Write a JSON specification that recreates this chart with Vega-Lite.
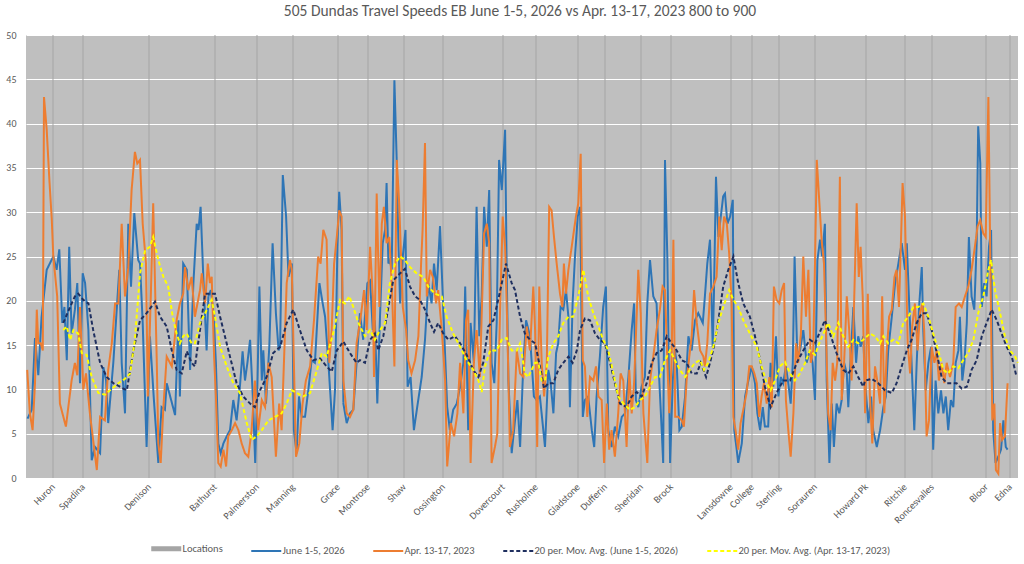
{
  "$schema": "https://vega.github.io/schema/vega-lite/v6.json",
  "width": 992,
  "height": 443,
  "autosize": {"type": "none"},
  "padding": {"left": 26, "top": 35, "right": 6, "bottom": 86},
  "background": "#ffffff",
  "title": {
    "text": "505 Dundas Travel Speeds EB June 1-5, 2026 vs Apr. 13-17, 2023 800 to 900",
    "font": "Carlito, Lato",
    "fontSize": 15.5,
    "fontWeight": "normal",
    "color": "#595959",
    "anchor": "middle",
    "frame": "group",
    "offset": 11,
    "dx": -2
  },
  "config": {
    "font": "Carlito, Lato",
    "view": {"fill": "#bfbfbf", "stroke": null},
    "axis": {"labelColor": "#595959", "labelFontSize": 10, "ticks": false, "domain": false, "title": null}
  },
  "datasets": {
    "loc": [
      {"k": 9, "name": "Huron"}, {"k": 19, "name": "Spadina"}, {"k": 41, "name": "Denison"}, {"k": 63, "name": "Bathurst"},
      {"k": 77, "name": "Palmerston"}, {"k": 89, "name": "Manning"}, {"k": 104, "name": "Grace"}, {"k": 114, "name": "Montrose"},
      {"k": 126, "name": "Shaw"}, {"k": 139, "name": "Ossington"}, {"k": 159, "name": "Dovercourt"}, {"k": 170, "name": "Rusholme"},
      {"k": 184, "name": "Gladstone"}, {"k": 193, "name": "Dufferin"}, {"k": 205, "name": "Sheridan"}, {"k": 215, "name": "Brock"},
      {"k": 235, "name": "Lansdowne"}, {"k": 242, "name": "College"}, {"k": 251, "name": "Sterling"}, {"k": 263, "name": "Sorauren"},
      {"k": 280, "name": "Howard Pk"}, {"k": 293, "name": "Ritchie"}, {"k": 302, "name": "Roncesvalles"}, {"k": 320, "name": "Bloor"},
      {"k": 328, "name": "Edna"}
    ],
    "jun": [
      {"k":0.5,"v":6.7},{"k":1.9,"v":7.7},{"k":3,"v":15.8},{"k":4.1,"v":11.6},{"k":5.2,"v":18.2},{"k":6.9,"v":23.5},{"k":9.1,"v":25},{"k":10.2,"v":23.5},{"k":11.1,"v":25.8},{"k":12.1,"v":17.5},{"k":12.8,"v":19.3},{"k":13.6,"v":13.3},{"k":14.4,"v":26.1},{"k":15.2,"v":16.3},{"k":16.3,"v":19},{"k":17.1,"v":22},{"k":18,"v":10.7},{"k":18.9,"v":23.1},{"k":19.7,"v":22},{"k":20.8,"v":16.7},{"k":21.9,"v":2},{"k":23,"v":3.5},{"k":24.7,"v":2.8},{"k":25.8,"v":12.5},{"k":26.7,"v":11},{"k":27.4,"v":6.2},{"k":29.1,"v":13},{"k":31.1,"v":23.5},{"k":31.9,"v":13},{"k":33,"v":7.3},{"k":34.1,"v":28.7},{"k":35,"v":21.6},{"k":36.1,"v":29.9},{"k":37.4,"v":24.6},{"k":38,"v":24.2},{"k":38.9,"v":17.5},{"k":40.2,"v":3.5},{"k":41.3,"v":16},{"k":42.6,"v":9},{"k":44.1,"v":1.7},{"k":45.2,"v":8},{"k":46.3,"v":7.7},{"k":46.9,"v":10.7},{"k":49.7,"v":7.1},{"k":50.8,"v":17.8},{"k":51.3,"v":9.2},{"k":52.4,"v":24.2},{"k":53.6,"v":23.5},{"k":54.7,"v":12.2},
      {"k":55.8,"v":22},{"k":56.9,"v":28.7},{"k":57.5,"v":28},{"k":58.2,"v":30.6},{"k":59.1,"v":22.7},{"k":60.2,"v":14.4},{"k":60.8,"v":20.5},{"k":61.6,"v":21.2},{"k":62.5,"v":18.6},{"k":63.3,"v":13},{"k":64.1,"v":3.9},{"k":64.9,"v":2.8},{"k":65.8,"v":3.9},{"k":66.9,"v":4.7},{"k":68,"v":5.4},{"k":69.1,"v":8.8},{"k":70.2,"v":6.5},{"k":71.3,"v":10.3},{"k":72.2,"v":14.3},{"k":73,"v":11},{"k":73.8,"v":13},{"k":74.7,"v":15.6},{"k":75.6,"v":9.2},{"k":76.4,"v":1.7},{"k":77.2,"v":11.4},{"k":77.8,"v":21.6},{"k":78.6,"v":11},{"k":79.1,"v":14.4},{"k":80,"v":8.4},{"k":81.1,"v":14.8},{"k":82.2,"v":26.5},{"k":83.3,"v":18.6},{"k":84.2,"v":14.4},{"k":84.7,"v":14.8},{"k":85.6,"v":34.2},{"k":86.7,"v":29.5},{"k":87.5,"v":22.7},{"k":88.6,"v":24.2},{"k":89.3,"v":5.4},{"k":90.2,"v":2.8},{"k":91,"v":9.2},{"k":91.9,"v":6.9},{"k":93,"v":6.9},{"k":94.1,"v":9.9},{"k":95.2,"v":13.3},{"k":96.3,"v":13},{"k":97.8,"v":22},{"k":98.9,"v":19.7},{"k":99.7,"v":18.2},{"k":100.8,"v":13},{"k":102.2,"v":5.4},{"k":103,"v":9.9},{"k":103.8,"v":26.1},{"k":104.4,"v":32.3},{"k":105.2,"v":28},{"k":105.8,"v":8.4},{"k":106.9,"v":6.2},{"k":108,"v":7.3},{"k":109.1,"v":7.7},{"k":110.2,"v":13},{"k":111.3,"v":18.6},
      {"k":112.4,"v":15.6},{"k":113.8,"v":22},{"k":114.7,"v":22.3},{"k":115.6,"v":16.7},{"k":116.3,"v":17.8},{"k":117.1,"v":8.4},{"k":118,"v":18.2},{"k":118.9,"v":26.5},{"k":119.7,"v":28},{"k":120.2,"v":33.3},{"k":120.8,"v":24.2},{"k":121.3,"v":24.6},{"k":121.9,"v":23.5},{"k":122.8,"v":44.9},{"k":123.6,"v":35.5},{"k":124.1,"v":27.2},{"k":124.7,"v":19.7},{"k":125.6,"v":25},{"k":126.5,"v":28},{"k":127.2,"v":10.3},{"k":128.2,"v":11.4},{"k":129.3,"v":5.4},{"k":130.4,"v":8},{"k":131.9,"v":11.4},{"k":133,"v":15.6},{"k":134.1,"v":22},{"k":135.2,"v":19.7},{"k":136,"v":24.2},{"k":136.9,"v":21.2},{"k":138,"v":28.4},{"k":139.1,"v":19},{"k":140.4,"v":8},{"k":141.3,"v":5.4},{"k":142.4,"v":7.7},{"k":143.6,"v":8.4},{"k":144.7,"v":10.3},{"k":145.8,"v":13},{"k":146.4,"v":21.6},{"k":147.4,"v":5.4},{"k":148.2,"v":17.5},{"k":149.3,"v":13},{"k":150.2,"v":30.6},{"k":151.1,"v":16},{"k":151.9,"v":20.5},{"k":152.7,"v":30.6},{"k":153.6,"v":26.1},{"k":154.4,"v":32.5},{"k":155.2,"v":13},{"k":156.1,"v":10.7},{"k":156.9,"v":17.5},{"k":157.7,"v":35.9},{"k":158.6,"v":32.5},{"k":159.7,"v":39.3},{"k":160.2,"v":24.2},{"k":160.8,"v":11},{"k":161.9,"v":2.8},{"k":163,"v":6.5},{"k":163.8,"v":8.8},{"k":164.7,"v":3.5},{"k":165.8,"v":13},{"k":166.7,"v":17.8},{"k":168,"v":16},{"k":169.3,"v":9.2},
      {"k":170.2,"v":8.8},{"k":171.3,"v":9.2},{"k":172.2,"v":6.2},{"k":173,"v":3.5},{"k":174.1,"v":12.2},{"k":174.9,"v":10.7},{"k":175.8,"v":7.3},{"k":176.7,"v":14.1},{"k":177.4,"v":15.2},{"k":178.2,"v":19.3},{"k":179.1,"v":19},{"k":180,"v":21.2},{"k":180.8,"v":18.2},{"k":181.3,"v":8},{"k":182.2,"v":19.7},{"k":183,"v":25},{"k":183.9,"v":29.5},{"k":184.7,"v":30.6},{"k":185.6,"v":6.9},{"k":186.3,"v":8.8},{"k":187.4,"v":9.2},{"k":188.6,"v":5.4},{"k":189.4,"v":3.5},{"k":190.2,"v":9.2},{"k":191.3,"v":13.7},{"k":192.4,"v":19.3},{"k":193.3,"v":21.6},{"k":194.1,"v":5.4},{"k":195.2,"v":3.5},{"k":196.3,"v":5.8},{"k":197.4,"v":4.7},{"k":198.6,"v":6.9},{"k":199.7,"v":7.3},{"k":200.8,"v":11.4},{"k":201.9,"v":16.7},{"k":202.7,"v":19.7},{"k":203.3,"v":8.8},{"k":204.1,"v":8},{"k":205.2,"v":10.3},{"k":206.3,"v":11.4},{"k":207.1,"v":19.7},{"k":208,"v":24.6},{"k":209.1,"v":20.5},{"k":210.2,"v":19.7},{"k":211.1,"v":11},{"k":211.9,"v":5.4},{"k":212.4,"v":1.7},{"k":213,"v":35.9},{"k":213.8,"v":24.6},{"k":214.7,"v":1.7},{"k":215.6,"v":11},{"k":216.3,"v":14.4},{"k":216.9,"v":13},{"k":217.8,"v":5.4},{"k":218.6,"v":5.8},{"k":219.7,"v":9.2},{"k":220.8,"v":16},{"k":221.9,"v":14.4},{"k":223,"v":17.8},{"k":224.1,"v":18.6},
      {"k":225.6,"v":17.5},{"k":226.3,"v":20.5},{"k":227.1,"v":24.2},{"k":228,"v":26.9},{"k":228.9,"v":14.8},{"k":229.3,"v":20.5},{"k":230,"v":34},{"k":230.8,"v":27.2},{"k":231.6,"v":29.5},{"k":232.4,"v":31.8},{"k":233,"v":32.1},{"k":233.8,"v":28.7},{"k":234.7,"v":29.5},{"k":235.6,"v":31.4},{"k":236.1,"v":5.4},{"k":236.9,"v":3.2},{"k":237.4,"v":1.7},{"k":238.6,"v":3.9},{"k":239.7,"v":9.2},{"k":240.8,"v":11},{"k":241.9,"v":12.6},{"k":243,"v":10.7},{"k":243.8,"v":7.3},{"k":244.7,"v":5.4},{"k":245.6,"v":8},{"k":246.3,"v":5.8},{"k":247.4,"v":5.8},{"k":248.2,"v":13},{"k":249.1,"v":10.3},{"k":250,"v":16},{"k":250.8,"v":9.2},{"k":251.6,"v":11.4},{"k":252.4,"v":10.7},{"k":253.3,"v":12.6},{"k":254.1,"v":10.7},{"k":254.9,"v":8.4},{"k":255.6,"v":13},{"k":256.2,"v":25},{"k":257.1,"v":13.7},{"k":258,"v":14.4},{"k":259.1,"v":16.7},{"k":260.2,"v":13},{"k":261.3,"v":14.4},{"k":262.2,"v":13},{"k":263,"v":8.8},{"k":263.8,"v":24.6},{"k":264.7,"v":26.9},{"k":265.4,"v":25},{"k":266.3,"v":28.7},{"k":266.9,"v":11},{"k":267.8,"v":1.7},{"k":268.6,"v":8.4},{"k":269.3,"v":3.5},{"k":270.2,"v":8.4},{"k":271.1,"v":7.3},{"k":271.9,"v":8.8},{"k":272.7,"v":13},{"k":273.6,"v":11.8},{"k":274.1,"v":8},{"k":274.9,"v":13.7},{"k":275.8,"v":19.3},{"k":276.7,"v":13},{"k":277.4,"v":16},{"k":278.2,"v":14.8},{"k":279.1,"v":16},
      {"k":279.7,"v":10.7},{"k":280.8,"v":6.2},{"k":281.7,"v":9.2},{"k":282.4,"v":5.4},{"k":283.6,"v":3.5},{"k":284.7,"v":5.4},{"k":285.8,"v":8},{"k":286.6,"v":9.2},{"k":287.4,"v":14.4},{"k":288.6,"v":18.2},{"k":289.7,"v":22},{"k":290.8,"v":24.2},{"k":291.9,"v":26.5},{"k":293,"v":23.5},{"k":293.6,"v":26.5},{"k":294.3,"v":20.5},{"k":295.2,"v":13},{"k":296.1,"v":5.4},{"k":296.9,"v":13},{"k":297.7,"v":19.3},{"k":298.6,"v":23.8},{"k":299.1,"v":16.7},{"k":299.9,"v":9.9},{"k":300.8,"v":13},{"k":301.7,"v":14.8},{"k":302.4,"v":3.2},{"k":303.2,"v":11},{"k":304.1,"v":7.3},{"k":305,"v":9.9},{"k":305.8,"v":7.3},{"k":306.6,"v":9.2},{"k":307.4,"v":5.4},{"k":308.3,"v":8.8},{"k":309.1,"v":8},{"k":309.9,"v":13},{"k":310.8,"v":14.4},{"k":311.3,"v":18.2},{"k":312.1,"v":11},{"k":312.8,"v":13},{"k":313.6,"v":17.5},{"k":314.3,"v":27.2},{"k":315.2,"v":20.5},{"k":316.1,"v":19},{"k":316.9,"v":26.5},{"k":317.4,"v":39.7},{"k":318.1,"v":35.5},{"k":318.6,"v":19.3},{"k":319.4,"v":22},{"k":320.2,"v":20.5},{"k":321,"v":26.1},{"k":321.7,"v":28},{"k":322.4,"v":5.4},{"k":323.2,"v":1.7},{"k":324.1,"v":2.4},{"k":325,"v":3.2},{"k":325.8,"v":6.5},{"k":326.6,"v":3.5},{"k":327.2,"v":3.2}
    ],
    "apr": [
      {"k":0.4,"v":12.2},{"k":1.3,"v":7.3},{"k":2.2,"v":5.4},{"k":3,"v":10.7},{"k":3.6,"v":19},{"k":4.1,"v":15.2},{"k":4.9,"v":15.2},{"k":5.6,"v":14.4},{"k":6,"v":43},{"k":6.9,"v":39.3},{"k":7.8,"v":33.6},{"k":8.6,"v":29.1},{"k":9.1,"v":25},{"k":10.4,"v":20.5},{"k":11.3,"v":8.4},{"k":13.3,"v":5.8},{"k":15.2,"v":11},{"k":16.3,"v":13},{"k":17.1,"v":11.6},{"k":18,"v":19.3},{"k":19.1,"v":10},{"k":20,"v":11.8},{"k":21.3,"v":7.3},{"k":23.6,"v":0.9},{"k":24.7,"v":6.9},{"k":26.3,"v":6.5},{"k":27.4,"v":12.2},{"k":28.6,"v":15.2},{"k":29.7,"v":19.7},{"k":30.8,"v":19.7},{"k":31.9,"v":28.7},{"k":33,"v":20.5},{"k":34.1,"v":23.8},{"k":35.2,"v":32.5},{"k":36.3,"v":36.8},{"k":37.1,"v":35.5},{"k":38,"v":35.9},{"k":38.9,"v":28.7},{"k":40,"v":24.2},{"k":40.6,"v":9.2},{"k":41.6,"v":20.5},{"k":42.4,"v":31},{"k":43.6,"v":13},{"k":44.1,"v":3.9},{"k":44.9,"v":1.7},{"k":45.8,"v":8},{"k":46.9,"v":13.7},{"k":48.6,"v":12.6},{"k":50.2,"v":17.8},{"k":51.3,"v":19.7},{"k":52.4,"v":20.8},{"k":53,"v":23.8},{"k":54.1,"v":21.2},{"k":55.2,"v":22.7},
      {"k":56.3,"v":18.2},{"k":58,"v":21.2},{"k":58.6,"v":23.1},{"k":59.7,"v":19.7},{"k":60.6,"v":24.2},{"k":61.3,"v":22},{"k":61.9,"v":22.7},{"k":62.7,"v":13.7},{"k":63.3,"v":9.2},{"k":64.1,"v":1.7},{"k":64.9,"v":1.3},{"k":65.8,"v":3.2},{"k":66.7,"v":1.3},{"k":67.4,"v":4.7},{"k":68.6,"v":5.4},{"k":69.7,"v":6.2},{"k":70.8,"v":5.4},{"k":71.9,"v":3.9},{"k":73,"v":2.8},{"k":74.1,"v":2.4},{"k":75.2,"v":5.4},{"k":76.3,"v":11},{"k":77.4,"v":5.4},{"k":78.6,"v":8.8},{"k":79.7,"v":8},{"k":80.8,"v":13},{"k":81.9,"v":11.4},{"k":83.3,"v":2.4},{"k":84.4,"v":8.4},{"k":85.2,"v":5.4},{"k":86.9,"v":22},{"k":88,"v":24.6},{"k":88.6,"v":23.5},{"k":89.3,"v":13},{"k":90,"v":2.4},{"k":91.1,"v":3.9},{"k":92.2,"v":8.4},{"k":93.3,"v":11},{"k":94.7,"v":12.6},{"k":96,"v":17.8},{"k":97.4,"v":25},{"k":98.2,"v":24.2},{"k":99.1,"v":28},{"k":100.2,"v":26.9},{"k":101.1,"v":13},{"k":101.9,"v":16.7},{"k":102.7,"v":24.2},{"k":103.6,"v":27.2},{"k":104.4,"v":30.2},{"k":105.2,"v":29.5},{"k":105.8,"v":11},{"k":106.9,"v":7.3},{"k":108,"v":6.9},{"k":109.1,"v":7.7},{"k":110.2,"v":15.2},{"k":111.3,"v":17.5},
      {"k":112.7,"v":21.2},{"k":113.6,"v":16.7},{"k":114.7,"v":26.1},{"k":115.6,"v":20.5},{"k":116,"v":11.4},{"k":116.9,"v":32.1},{"k":117.8,"v":19.3},{"k":118.6,"v":28.7},{"k":119.3,"v":30.6},{"k":120.2,"v":26.5},{"k":121.1,"v":27.2},{"k":122,"v":21.2},{"k":122.8,"v":12.6},{"k":123.6,"v":35.9},{"k":124.4,"v":31},{"k":125.6,"v":19.3},{"k":126.7,"v":16.7},{"k":127.4,"v":13.3},{"k":128.5,"v":11.8},{"k":129.7,"v":13.3},{"k":130.8,"v":16},{"k":131.7,"v":24.2},{"k":132.2,"v":28},{"k":133,"v":37.8},{"k":133.6,"v":20.5},{"k":134.7,"v":23.5},{"k":135.6,"v":22.7},{"k":136.7,"v":19.7},{"k":137.4,"v":21.2},{"k":138.6,"v":16.7},{"k":139.7,"v":11},{"k":140.4,"v":1.3},{"k":141.6,"v":6.2},{"k":142.7,"v":4.7},{"k":143.8,"v":7.3},{"k":144.7,"v":13},{"k":145.8,"v":7.3},{"k":146.7,"v":17.8},{"k":147.4,"v":19},{"k":148.2,"v":1.7},{"k":149.3,"v":13},{"k":150.2,"v":16.7},{"k":151.3,"v":11.4},{"k":152.7,"v":27.6},{"k":153.6,"v":28.7},{"k":154.4,"v":26.5},{"k":155.2,"v":1.7},{"k":156.3,"v":3.5},{"k":157.1,"v":5},{"k":158,"v":18.6},{"k":158.9,"v":29.5},{"k":159.7,"v":26.1},{"k":160.4,"v":17.5},{"k":161.3,"v":3.5},{"k":162.4,"v":5.4},{"k":163.6,"v":14.4},{"k":164.7,"v":11.8},{"k":165.8,"v":11.4},{"k":166.9,"v":17.1},{"k":168,"v":14.4},{"k":169.1,"v":21.6},
      {"k":169.7,"v":16.7},{"k":170.4,"v":3.5},{"k":171.1,"v":21.6},{"k":171.9,"v":13},{"k":172.7,"v":9.2},{"k":173.6,"v":13},{"k":174.4,"v":30.6},{"k":175.2,"v":30.2},{"k":176,"v":27.2},{"k":176.9,"v":24.2},{"k":178,"v":20.8},{"k":178.8,"v":19.3},{"k":179.3,"v":24.2},{"k":180,"v":20.8},{"k":180.8,"v":23.5},{"k":181.9,"v":26.1},{"k":183.3,"v":29.5},{"k":184.1,"v":31},{"k":184.9,"v":36.6},{"k":185.6,"v":13.3},{"k":186.3,"v":12.6},{"k":187.1,"v":6.9},{"k":188,"v":11.4},{"k":189.1,"v":11},{"k":190,"v":12.6},{"k":190.8,"v":9.2},{"k":191.9,"v":8.8},{"k":192.7,"v":1.7},{"k":193.6,"v":8.4},{"k":194.4,"v":3.2},{"k":195.2,"v":5.4},{"k":196.3,"v":2.4},{"k":197.4,"v":7.3},{"k":198.2,"v":11.8},{"k":199.1,"v":11},{"k":200.2,"v":3.5},{"k":201.1,"v":12.2},{"k":201.9,"v":7.3},{"k":202.7,"v":10.7},{"k":203.6,"v":18.6},{"k":204.1,"v":23.5},{"k":204.9,"v":18.6},{"k":205.8,"v":7.3},{"k":207.1,"v":1.7},{"k":208,"v":11},{"k":209.1,"v":13.7},{"k":210.2,"v":16.7},{"k":211.3,"v":19},{"k":212.2,"v":21.6},{"k":213,"v":21.2},{"k":213.8,"v":13},{"k":214.4,"v":7.3},{"k":215.2,"v":13},{"k":215.8,"v":26.9},{"k":216.4,"v":6.9},{"k":217.4,"v":6.9},{"k":218.6,"v":6.5},{"k":219.3,"v":5.8},{"k":220.2,"v":11},{"k":221.1,"v":13.7},{"k":221.9,"v":16},{"k":222.7,"v":21.2},{"k":223.6,"v":17.5},{"k":224.7,"v":14.4},{"k":225.8,"v":13.7},
      {"k":226.3,"v":12.6},{"k":227.1,"v":15.2},{"k":228,"v":20.8},{"k":229.1,"v":21.6},{"k":230.2,"v":22.7},{"k":231.1,"v":29.5},{"k":231.9,"v":25.7},{"k":232.7,"v":29.5},{"k":233.6,"v":28.7},{"k":234.4,"v":25.3},{"k":235.2,"v":19.7},{"k":235.8,"v":6.9},{"k":236.7,"v":5},{"k":237.4,"v":3.2},{"k":238.2,"v":6.2},{"k":239.1,"v":7.7},{"k":240.2,"v":9.6},{"k":241.1,"v":12.6},{"k":241.9,"v":12.6},{"k":242.8,"v":11.8},{"k":243.6,"v":10.7},{"k":244.4,"v":6.9},{"k":245.2,"v":9.2},{"k":246,"v":10.7},{"k":246.9,"v":8.4},{"k":247.8,"v":11.4},{"k":248.6,"v":8},{"k":249.3,"v":21.6},{"k":250.2,"v":20.1},{"k":251.1,"v":19.7},{"k":251.9,"v":21.2},{"k":252.7,"v":22},{"k":253.3,"v":8.8},{"k":254.1,"v":5.4},{"k":254.9,"v":2.4},{"k":255.8,"v":7.3},{"k":256.7,"v":15.2},{"k":257.4,"v":13},{"k":258.3,"v":16.3},{"k":259.1,"v":25},{"k":260,"v":18.2},{"k":260.8,"v":23.5},{"k":261.6,"v":13},{"k":262.4,"v":14.4},{"k":263,"v":24.2},{"k":263.6,"v":35.9},{"k":264.4,"v":31.4},{"k":265.2,"v":26.9},{"k":266,"v":24.2},{"k":266.7,"v":16},{"k":267.4,"v":7.3},{"k":268.2,"v":5.4},{"k":268.9,"v":13},{"k":269.7,"v":11},{"k":270.4,"v":13},{"k":271.3,"v":34},{"k":271.9,"v":8.8},{"k":272.7,"v":13},{"k":273.6,"v":20.5},{"k":274.4,"v":16.7},{"k":275.2,"v":11},{"k":276,"v":19.3},{"k":276.9,"v":31},{"k":277.6,"v":22.7},{"k":278.2,"v":26.1},{"k":278.9,"v":20.5},{"k":279.7,"v":7.3},
      {"k":280.6,"v":20.8},{"k":281.3,"v":9.2},{"k":282.1,"v":3.9},{"k":283,"v":12.6},{"k":283.9,"v":10.7},{"k":284.7,"v":8.4},{"k":285.4,"v":20.5},{"k":286.1,"v":7.3},{"k":286.9,"v":14.1},{"k":287.7,"v":18.2},{"k":288.6,"v":19},{"k":289.5,"v":22.7},{"k":290.2,"v":23.5},{"k":291,"v":19.3},{"k":291.7,"v":27.2},{"k":292.2,"v":33.3},{"k":293,"v":29.5},{"k":293.9,"v":15.2},{"k":294.7,"v":11.8},{"k":295.4,"v":17.1},{"k":296.3,"v":19.7},{"k":297.2,"v":14.4},{"k":298,"v":18.6},{"k":298.8,"v":19.7},{"k":299.4,"v":16.7},{"k":300.2,"v":4.7},{"k":301,"v":6.5},{"k":301.9,"v":14.8},{"k":302.8,"v":13},{"k":303.6,"v":14.4},{"k":304.3,"v":11},{"k":305.2,"v":13},{"k":306.1,"v":10.7},{"k":306.9,"v":13},{"k":308,"v":11.4},{"k":309.1,"v":13},{"k":309.9,"v":19.3},{"k":311,"v":19.7},{"k":311.9,"v":19.3},{"k":313,"v":20.5},{"k":314.1,"v":21.6},{"k":315.2,"v":23.5},{"k":316.3,"v":26.1},{"k":317.2,"v":28.4},{"k":318.1,"v":29.1},{"k":319.1,"v":27.6},{"k":319.9,"v":27.2},{"k":320.8,"v":43},{"k":321.3,"v":28.7},{"k":322.1,"v":6.5},{"k":322.8,"v":8.4},{"k":323.3,"v":0.9},{"k":324.1,"v":0.5},{"k":324.7,"v":6.2},{"k":325.4,"v":4.3},{"k":326.3,"v":4.7},{"k":327.2,"v":10.7}
    ],
    "majun": [
      {"k":12.4,"v":17.5},{"k":14.7,"v":19.3},{"k":16.3,"v":20.5},{"k":17.4,"v":20.8},{"k":19.1,"v":20.1},{"k":20.8,"v":19.7},{"k":22.4,"v":16.7},{"k":24.7,"v":13},{"k":26.9,"v":11.4},{"k":29.1,"v":10.7},{"k":31.3,"v":10.3},{"k":33.6,"v":9.9},{"k":35.8,"v":14.4},{"k":38,"v":17.8},{"k":40.2,"v":18.6},{"k":43,"v":19.9},{"k":44.7,"v":18.2},{"k":46.9,"v":17.1},{"k":48.6,"v":14.4},{"k":50.2,"v":12.2},{"k":51.9,"v":11.8},{"k":53.6,"v":14.3},{"k":55.2,"v":13},
      {"k":56.3,"v":12.6},{"k":58,"v":16.7},{"k":59.7,"v":20.8},{"k":61.3,"v":20.8},{"k":63,"v":20.8},{"k":64.7,"v":18.2},{"k":66.3,"v":16},{"k":68,"v":13.7},{"k":70.2,"v":10.7},{"k":72.4,"v":9.2},{"k":74.7,"v":8.4},{"k":76.3,"v":8},{"k":78,"v":9.9},{"k":80.2,"v":11.4},{"k":82.4,"v":14.1},{"k":84.7,"v":14.8},{"k":86.9,"v":17.5},{"k":89.1,"v":19},{"k":91.3,"v":16.7},{"k":93.6,"v":14.4},{"k":95.8,"v":13.3},{"k":98,"v":13.5},{"k":100.2,"v":12.6},{"k":101.9,"v":12},{"k":103.6,"v":14.4},{"k":105.8,"v":15.4},{"k":108,"v":14.1},{"k":110.2,"v":13},
      {"k":111.3,"v":13.3},{"k":113,"v":13},{"k":114.7,"v":15.6},{"k":116.3,"v":16.3},{"k":117.4,"v":14.4},{"k":119.1,"v":16},{"k":120.8,"v":19.3},{"k":122.4,"v":22.3},{"k":124.7,"v":23.1},{"k":126.3,"v":23.6},{"k":128,"v":21.6},{"k":129.7,"v":20.5},{"k":131.3,"v":20.1},{"k":133,"v":19},{"k":134.7,"v":17.5},{"k":136,"v":16.5},{"k":137.4,"v":17.5},{"k":139.1,"v":16.3},{"k":140.8,"v":15.6},{"k":143,"v":16},{"k":144.7,"v":15.2},{"k":146.9,"v":13.9},{"k":149.1,"v":12.2},{"k":150.8,"v":11.4},{"k":152.4,"v":13},{"k":154.1,"v":17.1},{"k":155.8,"v":17.8},{"k":157.4,"v":20.1},{"k":160,"v":24.2},{"k":161.9,"v":22},{"k":163,"v":21.2},{"k":164.7,"v":18.2},{"k":166.3,"v":16.3},{"k":168,"v":15.6},
      {"k":169.7,"v":15.2},{"k":171.3,"v":12.6},{"k":172.7,"v":10.1},{"k":174.1,"v":10.7},{"k":175.8,"v":10.7},{"k":177.4,"v":12.2},{"k":179.1,"v":13},{"k":180.8,"v":13.7},{"k":182.2,"v":13},{"k":183.6,"v":14.4},{"k":184.7,"v":16.7},{"k":186.3,"v":18},{"k":188,"v":17.8},{"k":189.7,"v":16.3},{"k":191.3,"v":15.6},{"k":193,"v":15.2},{"k":194.7,"v":13},{"k":196.3,"v":10.7},{"k":198,"v":8.4},{"k":200.2,"v":8},{"k":201.9,"v":9.2},{"k":203.6,"v":9.7},{"k":205.2,"v":9.2},{"k":206.9,"v":10.7},{"k":208.6,"v":13},{"k":210.2,"v":14.1},{"k":211.9,"v":14.4},{"k":213.6,"v":16},{"k":215.2,"v":15.2},{"k":216.9,"v":14.4},{"k":218.6,"v":13.3},{"k":220.2,"v":13},{"k":221.9,"v":11.8},{"k":223.6,"v":11.8},{"k":224.9,"v":13},
      {"k":226.7,"v":11.4},{"k":228,"v":13},{"k":229.3,"v":14.8},{"k":230.8,"v":17.8},{"k":232.4,"v":21.6},{"k":234.1,"v":23.5},{"k":235.8,"v":25},{"k":237.4,"v":22},{"k":239.1,"v":19.7},{"k":241.3,"v":18.2},{"k":243,"v":16},{"k":244.7,"v":13.3},{"k":246.3,"v":10.3},{"k":248.2,"v":8},{"k":250.2,"v":9.6},{"k":252.4,"v":11},{"k":254.7,"v":11},{"k":256.9,"v":13},{"k":259.1,"v":14.4},{"k":261.3,"v":15.6},{"k":263,"v":15.2},{"k":264.4,"v":16.3},{"k":266.3,"v":17.8},{"k":268,"v":16.3},{"k":270.2,"v":14.1},{"k":272.4,"v":12.2},{"k":274.1,"v":11.8},{"k":275.8,"v":12.6},{"k":277.4,"v":11.4},{"k":279.1,"v":10.3},
      {"k":279.7,"v":11},{"k":281.9,"v":11.2},{"k":284.1,"v":10.7},{"k":286.3,"v":9.9},{"k":288.6,"v":9.6},{"k":290.2,"v":10.7},{"k":291.9,"v":12.6},{"k":293.6,"v":14.4},{"k":295.2,"v":15.6},{"k":296.9,"v":17.5},{"k":298.6,"v":18.6},{"k":300.2,"v":18.6},{"k":301.9,"v":16.7},{"k":303.6,"v":14.1},{"k":305.2,"v":11.4},{"k":306.9,"v":10.7},{"k":308.6,"v":10.7},{"k":310.2,"v":10.7},{"k":311.9,"v":10.1},{"k":313.6,"v":10.3},{"k":315.2,"v":12.2},{"k":316.9,"v":13.3},{"k":318.6,"v":16},{"k":320.2,"v":17.5},{"k":321.9,"v":19},{"k":323.6,"v":17.8},{"k":325.2,"v":16.3},{"k":326.9,"v":14.8},{"k":328.6,"v":13.7},{"k":330.2,"v":11.4}
    ],
    "maapr": [
      {"k":12.4,"v":16.7},{"k":13.6,"v":17.1},{"k":14.7,"v":15.6},{"k":15.8,"v":16.7},{"k":17.4,"v":16.3},{"k":18.6,"v":14.1},{"k":20.2,"v":13.9},{"k":21.9,"v":11.4},{"k":24.1,"v":9.6},{"k":26.3,"v":9.4},{"k":28,"v":9.9},{"k":30.8,"v":10.7},{"k":33,"v":11.2},{"k":34.7,"v":11.8},{"k":36.3,"v":15.6},{"k":38,"v":23.1},{"k":39.7,"v":25.7},{"k":41.3,"v":26.1},{"k":42.4,"v":27.2},{"k":44.1,"v":24.6},{"k":45.8,"v":22.7},{"k":47.4,"v":21.6},{"k":48.9,"v":18.2},{"k":50.2,"v":16.3},{"k":51.3,"v":15.2},{"k":52.4,"v":16},{"k":53.6,"v":16.3},{"k":55.2,"v":15.2},
      {"k":56.3,"v":15.2},{"k":58,"v":17.5},{"k":59.7,"v":18.6},{"k":61.9,"v":20.1},{"k":63,"v":18.2},{"k":64.7,"v":14.8},{"k":66.9,"v":12.6},{"k":69.1,"v":10.7},{"k":71.3,"v":9.6},{"k":73.6,"v":6.2},{"k":75.2,"v":4.3},{"k":76.9,"v":4.7},{"k":78.6,"v":5.4},{"k":80.8,"v":6.5},{"k":83,"v":6.9},{"k":85.2,"v":7.3},{"k":86.9,"v":8.4},{"k":88.6,"v":9.9},{"k":90.2,"v":9.6},{"k":92.4,"v":9.2},{"k":94.7,"v":9.6},{"k":96.3,"v":11.4},{"k":98.6,"v":14.1},{"k":100.2,"v":13.7},{"k":102.4,"v":16.3},{"k":104.7,"v":20.1},{"k":106.3,"v":19.7},{"k":107.8,"v":20.5},{"k":109.1,"v":19.3},{"k":110.8,"v":17.5},
      {"k":113,"v":16},{"k":114.7,"v":16.7},{"k":116.3,"v":15.6},{"k":118,"v":16.7},{"k":119.7,"v":17.5},{"k":121.3,"v":22},{"k":123,"v":24.2},{"k":124.7,"v":25},{"k":126.3,"v":24.6},{"k":128,"v":23.8},{"k":130.2,"v":23.1},{"k":132.4,"v":22.7},{"k":134.1,"v":21.6},{"k":135.2,"v":21.2},{"k":136.3,"v":20.8},{"k":138.6,"v":20.5},{"k":140.2,"v":18.2},{"k":142.4,"v":16.3},{"k":144.7,"v":14.8},{"k":146.9,"v":13.3},{"k":149.1,"v":12.2},{"k":150.8,"v":11},{"k":151.9,"v":9.7},{"k":153,"v":12.6},{"k":154.7,"v":14.4},{"k":156.9,"v":14.4},{"k":158.6,"v":15.6},{"k":160.2,"v":15.8},{"k":161.9,"v":14.4},{"k":163.6,"v":14.4},{"k":164.7,"v":15.2},{"k":166.3,"v":11.8},{"k":167.4,"v":11.4},
      {"k":169.7,"v":13},{"k":170.8,"v":13},{"k":171.9,"v":11},{"k":173,"v":11},{"k":174.1,"v":13.7},{"k":175.8,"v":15.2},{"k":177.4,"v":16},{"k":179.1,"v":17.5},{"k":180.8,"v":18.2},{"k":182.4,"v":18.2},{"k":184.1,"v":20.5},{"k":185.8,"v":23.5},{"k":187.4,"v":20.5},{"k":189.1,"v":18.6},{"k":190.8,"v":17.1},{"k":192.4,"v":15.6},{"k":194.1,"v":14.4},{"k":195.8,"v":11.8},{"k":197.4,"v":9.2},{"k":199.1,"v":8.4},{"k":201.3,"v":7.7},{"k":203,"v":8},{"k":204.7,"v":8.8},{"k":206.3,"v":9.2},{"k":208,"v":10.3},{"k":209.7,"v":11.4},{"k":211.3,"v":11.4},{"k":213,"v":13.3},{"k":214.7,"v":14.4},{"k":216.3,"v":13.3},{"k":218,"v":12.2},{"k":219.7,"v":11.4},{"k":221.3,"v":12.2},{"k":223,"v":13},{"k":224.7,"v":13.3},
      {"k":226,"v":12.2},{"k":227.4,"v":13},{"k":229.1,"v":14.8},{"k":230.8,"v":17.5},{"k":232.4,"v":19.3},{"k":234.4,"v":21.2},{"k":235.8,"v":20.1},{"k":237.4,"v":19.3},{"k":239.1,"v":17.8},{"k":241.3,"v":16.3},{"k":243.6,"v":14.8},{"k":245.2,"v":12.6},{"k":246.9,"v":10.7},{"k":248.2,"v":9.9},{"k":249.7,"v":11},{"k":251.3,"v":12.6},{"k":253,"v":13.1},{"k":254.7,"v":11.8},{"k":256.3,"v":11},{"k":258,"v":11.8},{"k":259.7,"v":13},{"k":261.3,"v":14.4},{"k":263,"v":13.9},{"k":264.4,"v":15.2},{"k":265.8,"v":16.3},{"k":267.4,"v":17.5},{"k":269.1,"v":16},{"k":270.8,"v":17.5},{"k":272.4,"v":16},{"k":274.1,"v":14.8},{"k":275.8,"v":15.6},{"k":277.4,"v":15.2},{"k":279.1,"v":15.6},
      {"k":281.3,"v":16.3},{"k":283,"v":16},{"k":284.7,"v":15.2},{"k":285.8,"v":16},{"k":287.4,"v":15.2},{"k":289.1,"v":15.6},{"k":290.8,"v":15.2},{"k":292.4,"v":17.5},{"k":294.1,"v":18.2},{"k":295.8,"v":19.3},{"k":297.4,"v":19.3},{"k":299.1,"v":19.7},{"k":300.8,"v":18.2},{"k":302.4,"v":16.3},{"k":304.1,"v":14.4},{"k":305.8,"v":12.2},{"k":307.4,"v":11.8},{"k":309.1,"v":12.6},{"k":310.8,"v":12.4},{"k":312.4,"v":13.3},{"k":314.1,"v":14.1},{"k":315.8,"v":15.6},{"k":317.4,"v":18.6},{"k":319.1,"v":20.5},{"k":320.8,"v":23.5},{"k":321.7,"v":24.6},{"k":323,"v":21.2},{"k":324.7,"v":18.6},{"k":326.3,"v":16},{"k":328,"v":14.4},{"k":329.7,"v":13.7},{"k":330.6,"v":13}
    ]
  },
  "layer": [
    {
      "data": {"name": "loc"},
      "mark": {"type": "rule", "strokeWidth": 1},
      "encoding": {
        "x": {
          "field": "k",
          "type": "quantitative",
          "scale": {"domain": [0, 330.67], "nice": false, "zero": false},
          "axis": {
            "values": [9, 19, 41, 63, 77, 89, 104, 114, 126, 139, 159, 170, 184, 193, 205, 215, 235, 242, 251, 263, 280, 293, 302, 320, 328],
            "labelExpr": "['Huron','Spadina','Denison','Bathurst','Palmerston','Manning','Grace','Montrose','Shaw','Ossington','Dovercourt','Rusholme','Gladstone','Dufferin','Sheridan','Brock','Lansdowne','College','Sterling','Sorauren','Howard Pk','Ritchie','Roncesvalles','Bloor','Edna'][indexof([9,19,41,63,77,89,104,114,126,139,159,170,184,193,205,215,235,242,251,263,280,293,302,320,328], datum.value)]",
            "labelAngle": -45,
            "labelAlign": "right",
            "labelBaseline": "middle",
            "labelPadding": 7,
            "labelOverlap": false,
            "labelBound": false,
            "labelFlush": false,
            "grid": false
          }
        },
        "y": {
          "datum": 0,
          "type": "quantitative",
          "scale": {"domain": [0, 50], "nice": false},
          "axis": {
            "values": [0, 5, 10, 15, 20, 25, 30, 35, 40, 45, 50],
            "grid": true,
            "gridColor": "#ffffff",
            "gridWidth": 1,
            "labelPadding": 10
          }
        },
        "y2": {"datum": 50},
        "color": {
          "datum": "Locations",
          "type": "nominal",
          "scale": {
            "domain": ["Locations", "June 1-5, 2026", "Apr. 13-17, 2023", "20 per. Mov. Avg. (June 1-5, 2026)", "20 per. Mov. Avg. (Apr. 13-17, 2023)"],
            "range": ["#a5a5a5", "#2e75b6", "#ed7d31", "#1f2f5f", "#ffff00"]
          },
          "legend": {
            "title": null,
            "orient": "none",
            "legendX": 135,
            "legendY": 508,
            "direction": "horizontal",
            "columns": 5,
            "columnPadding": 24,
            "padding": 0,
            "symbolType": "stroke",
            "symbolSize": 900,
            "symbolStrokeWidth": 2,
            "labelFontSize": 10.5,
            "labelColor": "#595959",
            "labelOffset": 11,
            "encode": {
              "symbols": {"update": {"strokeWidth": {"signal": "datum.value === 'Locations' ? 5 : 2"}}}
            }
          }
        },
        "strokeDash": {
          "datum": "Locations",
          "type": "nominal",
          "scale": {
            "domain": ["Locations", "June 1-5, 2026", "Apr. 13-17, 2023", "20 per. Mov. Avg. (June 1-5, 2026)", "20 per. Mov. Avg. (Apr. 13-17, 2023)"],
            "range": [[1, 0], [1, 0], [1, 0], [4, 2.5], [4, 2.5]]
          },
          "legend": {"title": null}
        }
      }
    },
    {
      "data": {"name": "jun"},
      "mark": {"type": "line", "strokeWidth": 2},
      "encoding": {
        "x": {"field": "k", "type": "quantitative"},
        "y": {"field": "v", "type": "quantitative"},
        "color": {"datum": "June 1-5, 2026", "type": "nominal"},
        "strokeDash": {"datum": "June 1-5, 2026", "type": "nominal"}
      }
    },
    {
      "data": {"name": "apr"},
      "mark": {"type": "line", "strokeWidth": 2},
      "encoding": {
        "x": {"field": "k", "type": "quantitative"},
        "y": {"field": "v", "type": "quantitative"},
        "color": {"datum": "Apr. 13-17, 2023", "type": "nominal"},
        "strokeDash": {"datum": "Apr. 13-17, 2023", "type": "nominal"}
      }
    },
    {
      "data": {"name": "majun"},
      "mark": {"type": "line", "strokeWidth": 2},
      "encoding": {
        "x": {"field": "k", "type": "quantitative"},
        "y": {"field": "v", "type": "quantitative"},
        "color": {"datum": "20 per. Mov. Avg. (June 1-5, 2026)", "type": "nominal"},
        "strokeDash": {"datum": "20 per. Mov. Avg. (June 1-5, 2026)", "type": "nominal"}
      }
    },
    {
      "data": {"name": "maapr"},
      "mark": {"type": "line", "strokeWidth": 2},
      "encoding": {
        "x": {"field": "k", "type": "quantitative"},
        "y": {"field": "v", "type": "quantitative"},
        "color": {"datum": "20 per. Mov. Avg. (Apr. 13-17, 2023)", "type": "nominal"},
        "strokeDash": {"datum": "20 per. Mov. Avg. (Apr. 13-17, 2023)", "type": "nominal"}
      }
    }
  ]
}
